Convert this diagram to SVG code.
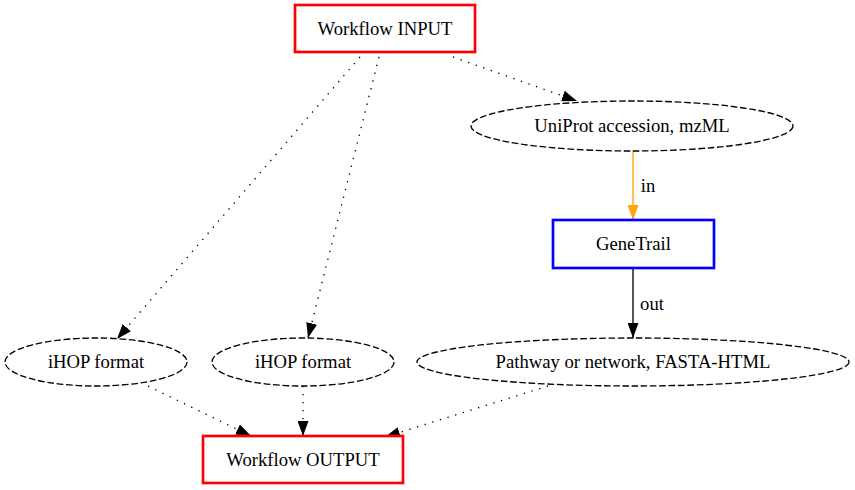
<svg xmlns="http://www.w3.org/2000/svg" width="855" height="490" viewBox="0 0 855 490">
<style>
text{font-family:"Liberation Serif","Times New Roman",serif;font-size:18.67px;fill:#000;text-anchor:middle}
.box{fill:#fff;stroke-width:2.67}
.ell{fill:#fff;stroke:#000;stroke-width:1.33;stroke-dasharray:6.67,2.67}
.dot{fill:none;stroke:#000;stroke-width:1.33;stroke-dasharray:1.33,6.67}
</style>
<defs>
<marker id="ah" viewBox="0 0 15 11" refX="15" refY="5.5" markerWidth="15" markerHeight="11" markerUnits="userSpaceOnUse" orient="auto"><path d="M0,0L15,5.5L0,11Z" fill="#000"/></marker>
<marker id="ahO" viewBox="0 0 15 11" refX="15" refY="5.5" markerWidth="15" markerHeight="11" markerUnits="userSpaceOnUse" orient="auto"><path d="M0,0L15,5.5L0,11Z" fill="orange"/></marker>
</defs>
<rect width="855" height="490" fill="#fff"/>
<g id="connectors">
<path class="dot" d="M360,57L117,339" marker-end="url(#ah)"/>
<path class="dot" d="M379,57L308,338" marker-end="url(#ah)"/>
<path class="dot" d="M453,57L577,101" marker-end="url(#ah)"/>
<path d="M633,151L633,220" fill="none" stroke="orange" stroke-width="1.33" marker-end="url(#ahO)"/>
<text x="648" y="192">in</text>
<path d="M633,268L633,338" fill="none" stroke="#000" stroke-width="1.33" marker-end="url(#ah)"/>
<text x="652" y="310">out</text>
<path class="dot" d="M148,386L251,436" marker-end="url(#ah)"/>
<path class="dot" d="M303,386L303,436" marker-end="url(#ah)"/>
<path class="dot" d="M548,386L385,437" marker-end="url(#ah)"/>
</g>
<g id="input"><rect class="box" x="295" y="5" width="180" height="47" stroke="red"/><text x="385" y="35">Workflow INPUT</text></g>
<g id="uniprot"><ellipse class="ell" cx="632" cy="126" rx="161" ry="25"/><text x="632" y="132">UniProt accession, mzML</text></g>
<g id="genetrail"><rect class="box" x="553" y="220" width="161" height="48" stroke="blue"/><text x="633.5" y="250">GeneTrail</text></g>
<g id="ihop1"><ellipse class="ell" cx="96" cy="362" rx="91" ry="24"/><text x="96" y="368">iHOP format</text></g>
<g id="ihop2"><ellipse class="ell" cx="303" cy="362" rx="91" ry="24"/><text x="303" y="368">iHOP format</text></g>
<g id="pathway"><ellipse class="ell" cx="633" cy="362" rx="216" ry="24"/><text x="633" y="368">Pathway or network, FASTA-HTML</text></g>
<g id="output"><rect class="box" x="203" y="436" width="200" height="47" stroke="red"/><text x="303" y="466">Workflow OUTPUT</text></g>
</svg>
